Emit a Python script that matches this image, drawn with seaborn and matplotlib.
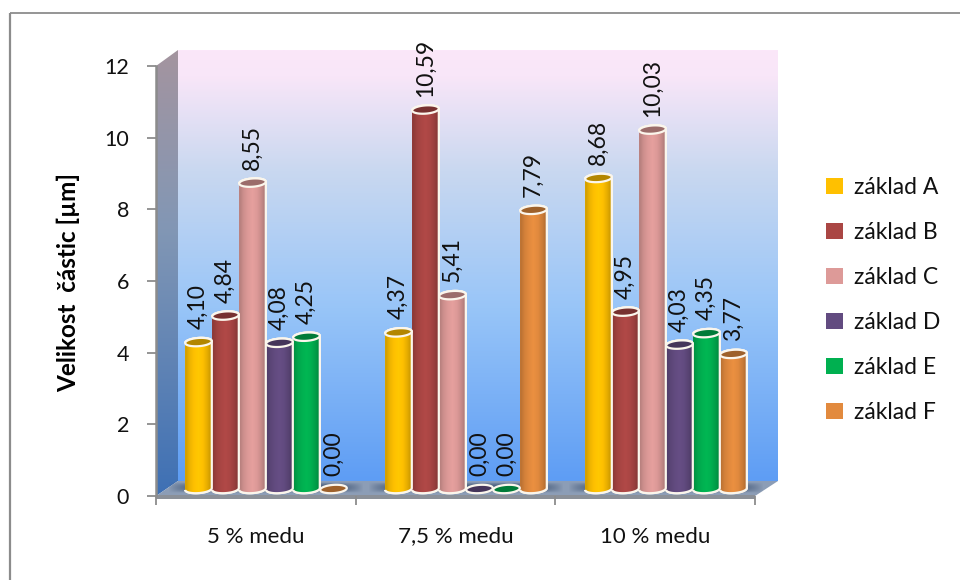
import numpy as np
import pandas as pd
import matplotlib
matplotlib.use("Agg")
import matplotlib.pyplot as plt
from matplotlib.colors import LinearSegmentedColormap, to_rgb
from matplotlib.patches import PathPatch, Polygon
from matplotlib.path import Path
import seaborn as sns

# Particle size by honey content and base
honey_levels = ["5 % medu", "7,5 % medu", "10 % medu"]
base_a = [4.10, 4.37, 8.68]
base_b = [4.84, 10.59, 4.95]
base_c = [8.55, 5.41, 10.03]
base_d = [4.08, 0.00, 4.03]
base_e = [4.25, 0.00, 4.35]
base_f = [0.00, 7.79, 3.77]
base_names = ["základ A", "základ B", "základ C", "základ D", "základ E", "základ F"]
base_colors = ["#FFC000", "#AA4644", "#DD9A98", "#624B80", "#00B050", "#E28A3E"]
y_ticks = [0, 2, 4, 6, 8, 10, 12]

W, H = 960, 580
FONT = "Lato"

sns.set_theme(style="white")
plt.rcParams["font.family"] = [FONT, "DejaVu Sans"]

table = pd.DataFrame({
    "level": honey_levels * 6,
    "base": np.repeat(base_names, 3),
    "size": base_a + base_b + base_c + base_d + base_e + base_f,
})

fig = plt.figure(figsize=(W / 100, H / 100), dpi=100, facecolor="white")


def box(left, top, right, bottom):
    return [left / W, 1 - bottom / H, (right - left) / W, (bottom - top) / H]


# Chart frame, walls and floor, laid out in canvas units
bg = fig.add_axes([0, 0, 1, 1], zorder=0)
bg.set_xlim(0, W)
bg.set_ylim(H, 0)
bg.axis("off")
bg.plot([10, 10], [H, 12.5], color="#8c8c8c", lw=1.6, solid_capstyle="butt")
bg.plot([10, W], [12.5, 12.5], color="#8c8c8c", lw=1.3, solid_capstyle="butt")

wall_cmap = LinearSegmentedColormap.from_list(
    "wall", [(0, "#FBE7F9"), (0.06, "#F8E6F8"), (0.28, "#C9D8F0"),
             (0.6, "#98C5F8"), (1, "#5E9DF4")])
bg.imshow(np.linspace(0, 1, 256)[:, None], cmap=wall_cmap, aspect="auto",
          extent=(178, 778, 481, 50), zorder=1)

side_cmap = LinearSegmentedColormap.from_list(
    "side", [(0, "#A4949F"), (0.4, "#8297B5"), (1, "#3E70B4")])
side = bg.imshow(np.linspace(0, 1, 256)[:, None], cmap=side_cmap, aspect="auto",
                 extent=(156, 178, 496, 50), zorder=1)
side.set_clip_path(Polygon([(156, 66), (178, 50), (178, 481), (156, 496)],
                           transform=bg.transData))

bg.add_patch(Polygon([(156, 496), (178, 481), (778, 481), (755, 496)],
                     facecolor="#8C9DB6", edgecolor="none", zorder=2))
bg.add_patch(Polygon([(156, 494.5), (755, 494.5), (755, 498.5), (156, 498.5)],
                     facecolor="#8B9098", edgecolor="none", zorder=3))

# Soft shadow the bar groups leave on the floor
yy, xx = np.mgrid[-1:1:24j, -1:1:200j]
falloff = np.clip(1 - np.abs(xx) ** 6, 0, 1) * np.clip(1 - yy ** 2, 0, 1)
shadow = np.zeros((*falloff.shape, 4))
shadow[..., :3] = to_rgb("#2F4668")
shadow[..., 3] = 0.75 * falloff
for center in (266, 466, 666):
    bg.imshow(shadow, aspect="auto", extent=(center - 98, center + 98, 493, 482), zorder=2.5)
bg.set_xlim(0, W)
bg.set_ylim(H, 0)

# Axis lines, ticks and their labels
frame = fig.add_axes(box(156, 66, 755, 496), zorder=1)
frame.patch.set_alpha(0)
frame.set_xlim(0, 3)
frame.set_ylim(0, 12)
for name in ("top", "right", "bottom"):
    frame.spines[name].set_visible(False)
frame.spines["left"].set_color("#8c8c8c")
frame.spines["left"].set_linewidth(1.8)
frame.set_yticks(y_ticks)
frame.set_xticks([0, 1, 2, 3])
frame.set_xticklabels([])
frame.set_xticks([0.5, 1.5, 2.5], labels=honey_levels, minor=True)
frame.tick_params(axis="y", length=6.5, width=1.3, color="#8c8c8c",
                  labelsize=15.5, pad=13, left=True)
frame.tick_params(axis="x", which="major", length=6.5, width=1.3,
                  color="#8c8c8c", bottom=True)
frame.tick_params(axis="x", which="minor", length=0, labelsize=16, pad=22,
                  labelcolor="#111111")
frame.set_ylabel("Velikost  částic [µm]", fontsize=17.5, fontweight="bold",
                 color="black", va="center")
frame.yaxis.set_label_coords(68 / W, 1 - 282 / H, transform=fig.transFigure)
for label in frame.get_yticklabels():
    label.set_color("#111111")

# Bars
ax = fig.add_axes(box(166, 59, 766, 489 + 0.5 * 430 / 12), zorder=2)
sns.barplot(data=table, x="level", y="size", hue="base", palette=base_colors,
            hue_order=base_names, order=honey_levels, width=0.81, gap=0,
            saturation=1, dodge=True, ax=ax, linewidth=0, errorbar=None)
ax.patch.set_alpha(0)
ax.set_xlim(-0.5, 2.5)
ax.set_ylim(-0.5, 12)
ax.set_xlabel("")
ax.set_ylabel("")
ax.set_xticks([])
ax.set_yticks([])
for spine in ax.spines.values():
    spine.set_visible(False)

CAP = 0.115       # half height of an end cap, in axis units
TILT = 0.025      # lift of the right side of a cap
RIM = "#FBF6EC"


def cap_curve(cx, half, cy, start, stop, n=37):
    t = np.linspace(start, stop, n)
    return np.column_stack([cx + half * np.cos(t), cy + CAP * np.sin(t) + TILT * np.cos(t)])


def shade(color):
    rgb = np.array(to_rgb(color))
    stops = [0.80, 0.93, 1.0, 1.04, 1.0, 0.90, 0.76]
    xs = np.linspace(0, 1, len(stops))
    grid = np.linspace(0, 1, 64)
    factor = np.interp(grid, xs, stops)
    return np.clip(factor[None, :, None] * rgb[None, None, :], 0, 1)


for container, color in zip(ax.containers, base_colors):
    for bar, value in zip(container, container.datavalues):
        left, width = bar.get_x(), bar.get_width()
        cx, half = left + width / 2, width / 2 * 0.985
        dark = tuple(np.array(to_rgb(color)) * 0.7)
        if value > 0:
            outline = np.vstack([
                cap_curve(cx, half, 0, np.pi, 2 * np.pi),
                cap_curve(cx, half, value, 0, np.pi),
            ])
            body = PathPatch(Path(outline, closed=False), facecolor=color,
                             edgecolor=RIM, lw=1.6, zorder=4)
            ax.add_patch(body)
            img = ax.imshow(shade(color), aspect="auto", zorder=4.1,
                            extent=(cx - half, cx + half, -CAP - 0.05, value + CAP))
            img.set_clip_path(body)
            ax.add_patch(PathPatch(Path(outline), facecolor="none",
                                   edgecolor=RIM, lw=1.6, zorder=4.2))
        ax.add_patch(Polygon(cap_curve(cx, half, value, 0, 2 * np.pi, 73),
                             facecolor=dark, edgecolor=RIM, lw=1.6, zorder=4.3))
        ax.annotate(f"{value:.2f}".replace(".", ","), (cx, value),
                    xytext=(0, 13), textcoords="offset pixels", rotation=90,
                    ha="center", va="bottom", fontsize=16.5, color="#111111",
                    zorder=6)

ax.set_xlim(-0.5, 2.5)
ax.set_ylim(-0.5, 12)

sns.move_legend(ax, "center left", bbox_to_anchor=(826 / W, 1 - 300 / H),
                bbox_transform=fig.transFigure, frameon=False, title=None,
                fontsize=16.5, handlelength=0.72, handleheight=0.72,
                handletextpad=0.5, labelspacing=1.05, borderpad=0,
                borderaxespad=0, labelcolor="#111111")

fig.savefig("out.png", dpi=100, facecolor="white")
